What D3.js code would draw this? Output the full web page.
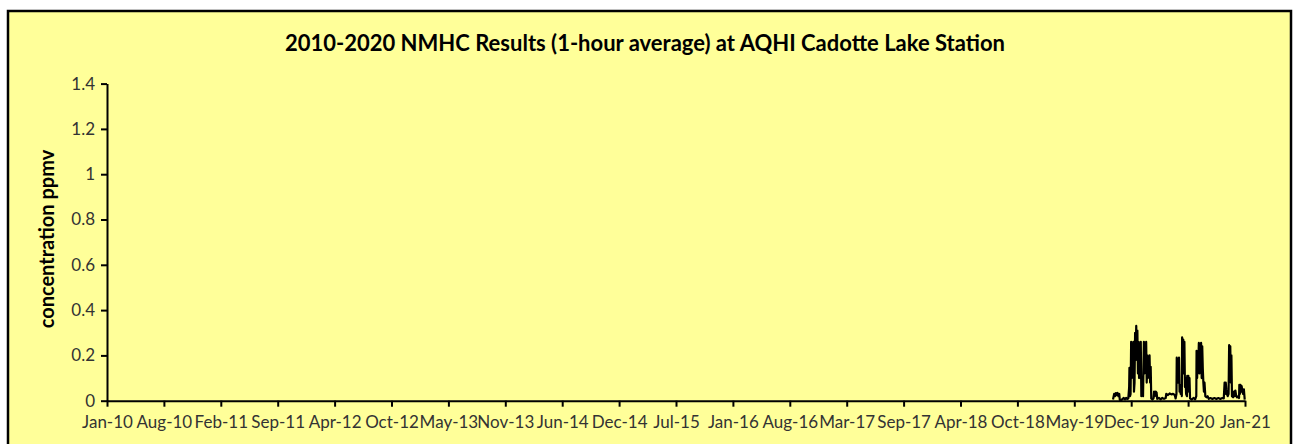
<!DOCTYPE html>
<html>
<head>
<script src="https://cdnjs.cloudflare.com/ajax/libs/d3/7.8.5/d3.min.js"></script>
<style>
  body { margin: 0; background: #ffffff; }
</style>
</head>
<body>
<script>
var chartTitle = "2010-2020 NMHC Results (1-hour average) at AQHI Cadotte Lake Station";
var yTitle = "concentration ppmv";

var tickLabels = ["Jan-10", "Aug-10", "Feb-11", "Sep-11", "Apr-12", "Oct-12", "May-13",
    "Nov-13", "Jun-14", "Dec-14", "Jul-15", "Jan-16", "Aug-16", "Mar-17", "Sep-17",
    "Apr-18", "Oct-18", "May-19", "Dec-19", "Jun-20", "Jan-21"];
var yTicks = [0, 0.2, 0.4, 0.6, 0.8, 1, 1.2, 1.4];

// readings, ppmv
var dates = [
    "2019-09-23", "2019-09-27", "2019-09-30", "2019-10-03", "2019-10-06", "2019-10-09", "2019-10-12", "2019-10-15",
    "2019-10-17", "2019-10-22", "2019-10-27", "2019-10-31", "2019-11-04", "2019-11-08", "2019-11-12", "2019-11-16",
    "2019-11-19", "2019-11-20", "2019-11-22", "2019-11-24", "2019-11-26", "2019-11-28", "2019-11-30", "2019-12-02",
    "2019-12-04", "2019-12-06", "2019-12-08", "2019-12-10", "2019-12-12", "2019-12-14", "2019-12-16", "2019-12-18",
    "2019-12-20", "2019-12-22", "2019-12-24", "2019-12-26", "2019-12-28", "2019-12-30", "2020-01-01", "2020-01-04",
    "2020-01-07", "2020-01-10", "2020-01-12", "2020-01-14", "2020-01-16", "2020-01-18", "2020-01-20", "2020-01-22",
    "2020-01-24", "2020-01-26", "2020-01-28", "2020-01-30", "2020-02-01", "2020-02-03", "2020-02-05", "2020-02-09",
    "2020-02-13", "2020-02-15", "2020-02-18", "2020-02-21", "2020-02-24", "2020-02-26", "2020-03-03", "2020-03-09",
    "2020-03-15", "2020-03-21", "2020-03-27", "2020-03-29", "2020-04-04", "2020-04-10", "2020-04-16", "2020-04-22",
    "2020-04-28", "2020-05-01", "2020-05-04", "2020-05-05", "2020-05-07", "2020-05-09", "2020-05-11", "2020-05-13",
    "2020-05-15", "2020-05-17", "2020-05-19", "2020-05-21", "2020-05-23", "2020-05-24", "2020-05-26", "2020-05-28",
    "2020-05-30", "2020-06-01", "2020-06-03", "2020-06-05", "2020-06-07", "2020-06-10", "2020-06-11", "2020-06-13",
    "2020-06-15", "2020-06-17", "2020-06-19", "2020-06-21", "2020-06-27", "2020-07-03", "2020-07-09", "2020-07-13",
    "2020-07-14", "2020-07-16", "2020-07-18", "2020-07-20", "2020-07-22", "2020-07-24", "2020-07-26", "2020-07-28",
    "2020-07-30", "2020-08-01", "2020-08-03", "2020-08-05", "2020-08-07", "2020-08-09", "2020-08-11", "2020-08-14",
    "2020-08-18", "2020-08-22", "2020-08-26", "2020-09-01", "2020-09-08", "2020-09-15", "2020-09-22", "2020-09-29",
    "2020-10-06", "2020-10-13", "2020-10-18", "2020-10-21", "2020-10-23", "2020-10-25", "2020-10-27", "2020-10-29",
    "2020-11-01", "2020-11-04", "2020-11-06", "2020-11-08", "2020-11-10", "2020-11-12", "2020-11-14", "2020-11-16",
    "2020-11-20", "2020-11-23", "2020-11-25", "2020-11-28", "2020-12-01", "2020-12-04", "2020-12-08", "2020-12-11",
    "2020-12-12", "2020-12-14", "2020-12-16", "2020-12-18", "2020-12-20", "2020-12-22", "2020-12-25", "2020-12-28",
    "2020-12-31"
];
var nmhc = [
    0.005, 0.03, 0.02, 0.034, 0.025, 0.034, 0.02, 0.03,
    0.004, 0.003, 0.008, 0.012, 0.006, 0.012, 0.008, 0.01,
    0.06, 0.145, 0.02, 0.03, 0.26, 0.1, 0.25, 0.15,
    0.26, 0.04, 0.08, 0.3, 0.2, 0.33, 0.18, 0.31,
    0.12, 0.26, 0.1, 0.25, 0.15, 0.26, 0.02, 0.03,
    0.02, 0.26, 0.12, 0.25, 0.18, 0.26, 0.08, 0.2,
    0.1, 0.19, 0.12, 0.2, 0.08, 0.15, 0.01, 0.005,
    0.01, 0.04, 0.02, 0.04, 0.035, 0.008, 0.012, 0.006,
    0.012, 0.008, 0.012, 0.03, 0.025, 0.032, 0.028, 0.03,
    0.025, 0.01, 0.03, 0.19, 0.1, 0.18, 0.08, 0.19,
    0.04, 0.07, 0.03, 0.07, 0.02, 0.28, 0.15, 0.27,
    0.12, 0.26, 0.06, 0.1, 0.03, 0.02, 0.11, 0.06,
    0.11, 0.04, 0.1, 0.01, 0.005, 0.012, 0.006, 0.02,
    0.22, 0.1, 0.21, 0.15, 0.255, 0.12, 0.25, 0.18,
    0.255, 0.1, 0.24, 0.14, 0.08, 0.04, 0.08, 0.02,
    0.015, 0.02, 0.008, 0.012, 0.008, 0.012, 0.008, 0.012,
    0.008, 0.012, 0.01, 0.08, 0.03, 0.08, 0.05, 0.03,
    0.02, 0.03, 0.245, 0.1, 0.24, 0.08, 0.2, 0.02,
    0.015, 0.04, 0.02, 0.045, 0.02, 0.015, 0.02, 0.012,
    0.07, 0.03, 0.07, 0.04, 0.065, 0.05, 0.03, 0.05,
    0.005
];

var width = 1293, height = 444;
var plotLeft = 107, plotRight = 1245, plotTop = 83.6, plotBottom = 400.7;
var font = "Lato, 'Liberation Sans', sans-serif";

var parse = d3.timeParse("%Y-%m-%d");
var series = dates.map(function(d, i) { return { date: parse(d), value: nmhc[i] }; });

var x = d3.scaleTime()
    .domain([new Date(2010, 0, 1), new Date(2021, 0, 1)])
    .range([plotLeft, plotRight]);
var y = d3.scaleLinear()
    .domain([0, 1.4])
    .range([plotBottom, plotTop]);

// tick dates are evenly spaced along the axis
var tickDates = tickLabels.map(function(d, i) {
    var t0 = x.domain()[0].getTime(), t1 = x.domain()[1].getTime();
    return new Date(t0 + (t1 - t0) * i / (tickLabels.length - 1));
});

var svg = d3.select("body").append("svg")
    .attr("width", width)
    .attr("height", height);

svg.append("rect")
    .attr("x", 8).attr("y", 11)
    .attr("width", 1283).attr("height", 460)
    .attr("fill", "#ffff99")
    .attr("stroke", "#000")
    .attr("stroke-width", 2.5);

svg.append("text")
    .attr("x", 645).attr("y", 51)
    .attr("text-anchor", "middle")
    .style("font-family", font)
    .style("font-weight", "bold")
    .style("font-size", "22px")
    .attr("fill", "#000")
    .text(chartTitle);

svg.append("text")
    .attr("transform", "translate(54,239) rotate(-90)")
    .attr("text-anchor", "middle")
    .style("font-family", font)
    .style("font-weight", "bold")
    .style("font-size", "20px")
    .attr("fill", "#000")
    .text(yTitle);

var xAxis = svg.append("g")
    .attr("transform", "translate(0," + plotBottom + ")")
    .call(d3.axisBottom(x)
        .tickValues(tickDates)
        .tickFormat(function(d, i) { return tickLabels[i]; })
        .tickSize(6)
        .tickSizeOuter(0));

var yAxis = svg.append("g")
    .attr("transform", "translate(" + plotLeft + ",0)")
    .call(d3.axisLeft(y)
        .tickValues(yTicks)
        .tickFormat(d3.format("~g"))
        .tickSize(6)
        .tickSizeOuter(0));

[xAxis, yAxis].forEach(function(g) {
    g.select(".domain").attr("stroke", "#000").attr("stroke-width", 2);
    g.selectAll(".tick line").attr("stroke", "#000").attr("stroke-width", 2);
    g.selectAll(".tick text")
        .attr("fill", "#333")
        .style("font-family", font)
        .style("font-size", "17px");
});
xAxis.selectAll(".tick text").attr("dy", "1.05em");
yAxis.selectAll(".tick text").attr("x", -12);

var line = d3.line()
    .x(function(d) { return x(d.date); })
    .y(function(d) { return y(d.value); });

svg.append("path")
    .datum(series)
    .attr("d", line)
    .attr("fill", "none")
    .attr("stroke", "#000")
    .attr("stroke-width", 2.2)
    .attr("stroke-linejoin", "round");
</script>
</body>
</html>
